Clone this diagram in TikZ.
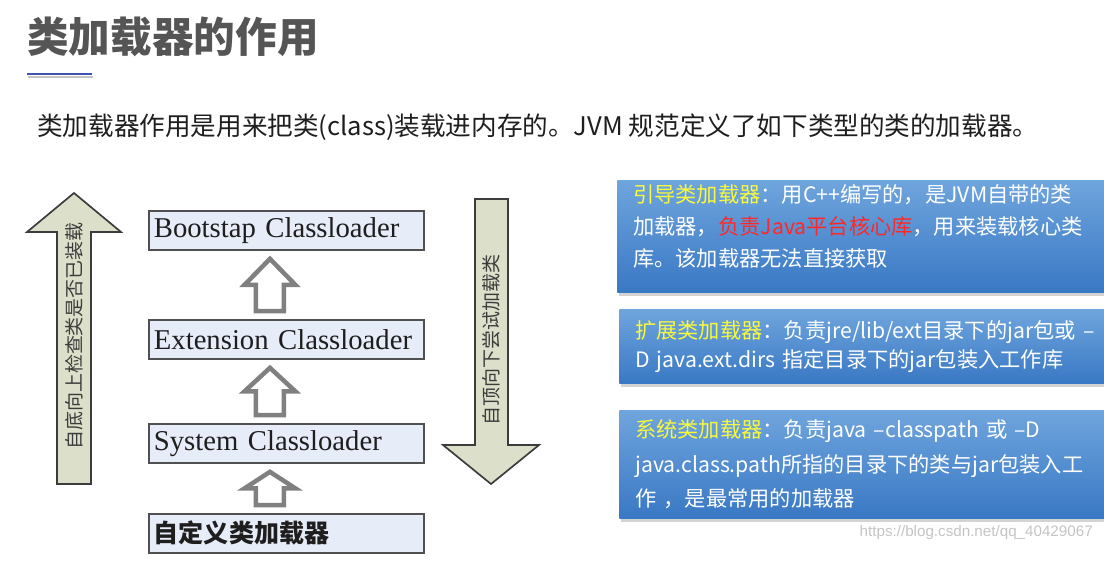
\documentclass[tikz,border=0pt]{standalone}
\usepackage{fontspec}
\setmainfont{Noto Sans CJK SC}
\newfontfamily\loaderfont{Liberation Serif}
\newfontfamily\urlfont{Liberation Sans}
\usetikzlibrary{calc,shadows}
\definecolor{titlegray}{HTML}{555555}
\definecolor{rulecol}{HTML}{3F51B5}
\definecolor{boxfill}{HTML}{E6ECF8}
\definecolor{boxline}{HTML}{505050}
\definecolor{flowfill}{HTML}{DCDFC9}
\definecolor{flowline}{HTML}{3C3C3C}
\definecolor{parentgray}{HTML}{808080}
\definecolor{paneltop}{HTML}{6FA5DD}
\definecolor{panelbot}{HTML}{3978C4}
\definecolor{headyellow}{HTML}{F8F83C}
\definecolor{corered}{HTML}{FF2828}
\definecolor{wmgray}{HTML}{C4C4C4}
\definecolor{ink}{HTML}{1E1E1E}
\tikzset{
  heading/.style={anchor=west, inner sep=0pt, text=titlegray,
                  font=\bfseries\fontsize{29.6}{34}\selectfont},
  lead/.style={anchor=west, inner sep=0pt, text=ink,
               font=\fontsize{18.2}{21}\selectfont},
  % the class loaders, one box per level
  loader/.style={anchor=north west, draw=boxline, line width=1.3pt, fill=boxfill,
                 text width=6.625cm, inner xsep=0.125cm, inner ysep=0pt,
                 minimum height=0.975cm, align=left, text=ink,
                 font=\loaderfont\fontsize{20.4}{24}\selectfont,
                 drop shadow={opacity=0.25, shadow xshift=1pt, shadow yshift=-1pt}},
  % delegation: hollow grey arrow from child to parent
  parent/.style={draw=parentgray, line width=3.2pt, fill=white, line join=miter},
  flow/.style={draw=flowline, line width=1.2pt, fill=flowfill, line join=miter},
  flowtext/.style={inner sep=0pt, text=flowline, font=\fontsize{13.5}{16}\selectfont},
  panel/.style={anchor=north west, text width=11.4cm, inner xsep=0.4cm,
                inner ysep=0pt, align=left, top color=paneltop, bottom color=panelbot,
                text=white, font=\fontsize{15.1}{22.5}\selectfont,
                drop shadow={opacity=0.35, shadow xshift=1.5pt, shadow yshift=-2.5pt}},
  watermark/.style={anchor=east, inner sep=0pt, text=wmgray,
                    font=\urlfont\fontsize{10.8}{13}\selectfont},
}
\newcommand{\yel}[1]{\textcolor{headyellow}{#1}}
\newcommand{\core}[1]{\textcolor{corered}{#1}}

\begin{document}
\begin{tikzpicture}[x=0.025cm, y=-0.025cm]
  \useasboundingbox (0,0) rectangle (1104,560);

  % --- heading ---------------------------------------------------------------
  \node[heading] (title) at (27,37) {类加载器的作用};
  \draw[wmgray, line width=2pt] (28,77) -- (93,77);
  \draw[rulecol, line width=1.6pt] (27,74) -- (92,74);
  \node[lead] (intro) at (37,127)
    {类加载器作用是用来把类(class)装载进内存的。JVM 规范定义了如下类型的类的加载器。};

  % --- search direction, drawn as two broad arrows ------------------------
  \draw[flow] (57,484) -- (57,232) -- (27,232) -- (74,193) -- (121,232)
              -- (91,232) -- (91,484) -- cycle;
  \node[flowtext, rotate=90] (upward) at (74,336) {自底向上检查类是否已装载};
  \draw[flow] (475,199) -- (508,199) -- (508,445) -- (539,445) -- (491,484)
              -- (443,445) -- (475,445) -- cycle;
  \node[flowtext, rotate=90] (downward) at (491,340) {自顶向下尝试加载类};

  % --- loaders, top to bottom ----------------------------------------------
  \node[loader] (boot)   at (148,210) {Bootstap Classloader};
  \node[loader] (ext)    at (148,319) {Extension Classloader};
  \node[loader] (sys)    at (148,423) {System Classloader};
  \node[loader, font=\bfseries\fontsize{17.8}{21}\selectfont]
                (custom) at (148,513) {自定义类加载器};

  % child -> parent; the arrows sit a little left of the box centres
  \foreach \low/\up in {ext/boot, sys/ext, custom/sys} {
    \coordinate (b) at ($(\low.north)+(-16.5,-8)$);
    \coordinate (t) at ($(\up.south)+(-16.5,8)$);
    \coordinate (m) at ($(t)!0.5!(b)$);
    \draw[parent] ($(b)+(-14,0)$) -- ($(b)+(14,0)$) -- ($(m)+(14,0)$)
                  -- ($(m)+(25.5,0)$) -- (t) -- ($(m)+(-25.5,0)$)
                  -- ($(m)+(-14,0)$) -- cycle;
  }

  % --- what each loader does -----------------------------------------------
  % (the first panel's text sits high in its box, hence the trailing space)
  \node[panel, minimum height=2.8cm] (bootinfo) at (617,180)
    {\yel{引导类加载器}：用C++编写的，是JVM自带的类\\
     加载器，\core{负责Java平台核心库}，用来装载核心类\\
     库。该加载器无法直接获取\par\vspace{14pt}};
  \node[panel, minimum height=1.85cm, font=\fontsize{15.1}{20.6}\selectfont]
    (extinfo) at (619,309)
    {\mbox{\yel{扩展类加载器}：负责jre/lib/ext目录下的jar包或 –}\\
     D java.ext.dirs 指定目录下的jar包装入工作库};
  \node[panel, minimum height=2.7cm, font=\fontsize{15.1}{24.5}\selectfont]
    (sysinfo) at (619,410)
    {\yel{系统类加载器}：负责java –classpath 或 –D\\
     java.class.path所指的目录下的类与jar包装入工\\
     作 ，是最常用的加载器};

  \node[watermark] (source) at (1093,533) {https://blog.csdn.net/qq\_40429067};

\end{tikzpicture}
\end{document}
